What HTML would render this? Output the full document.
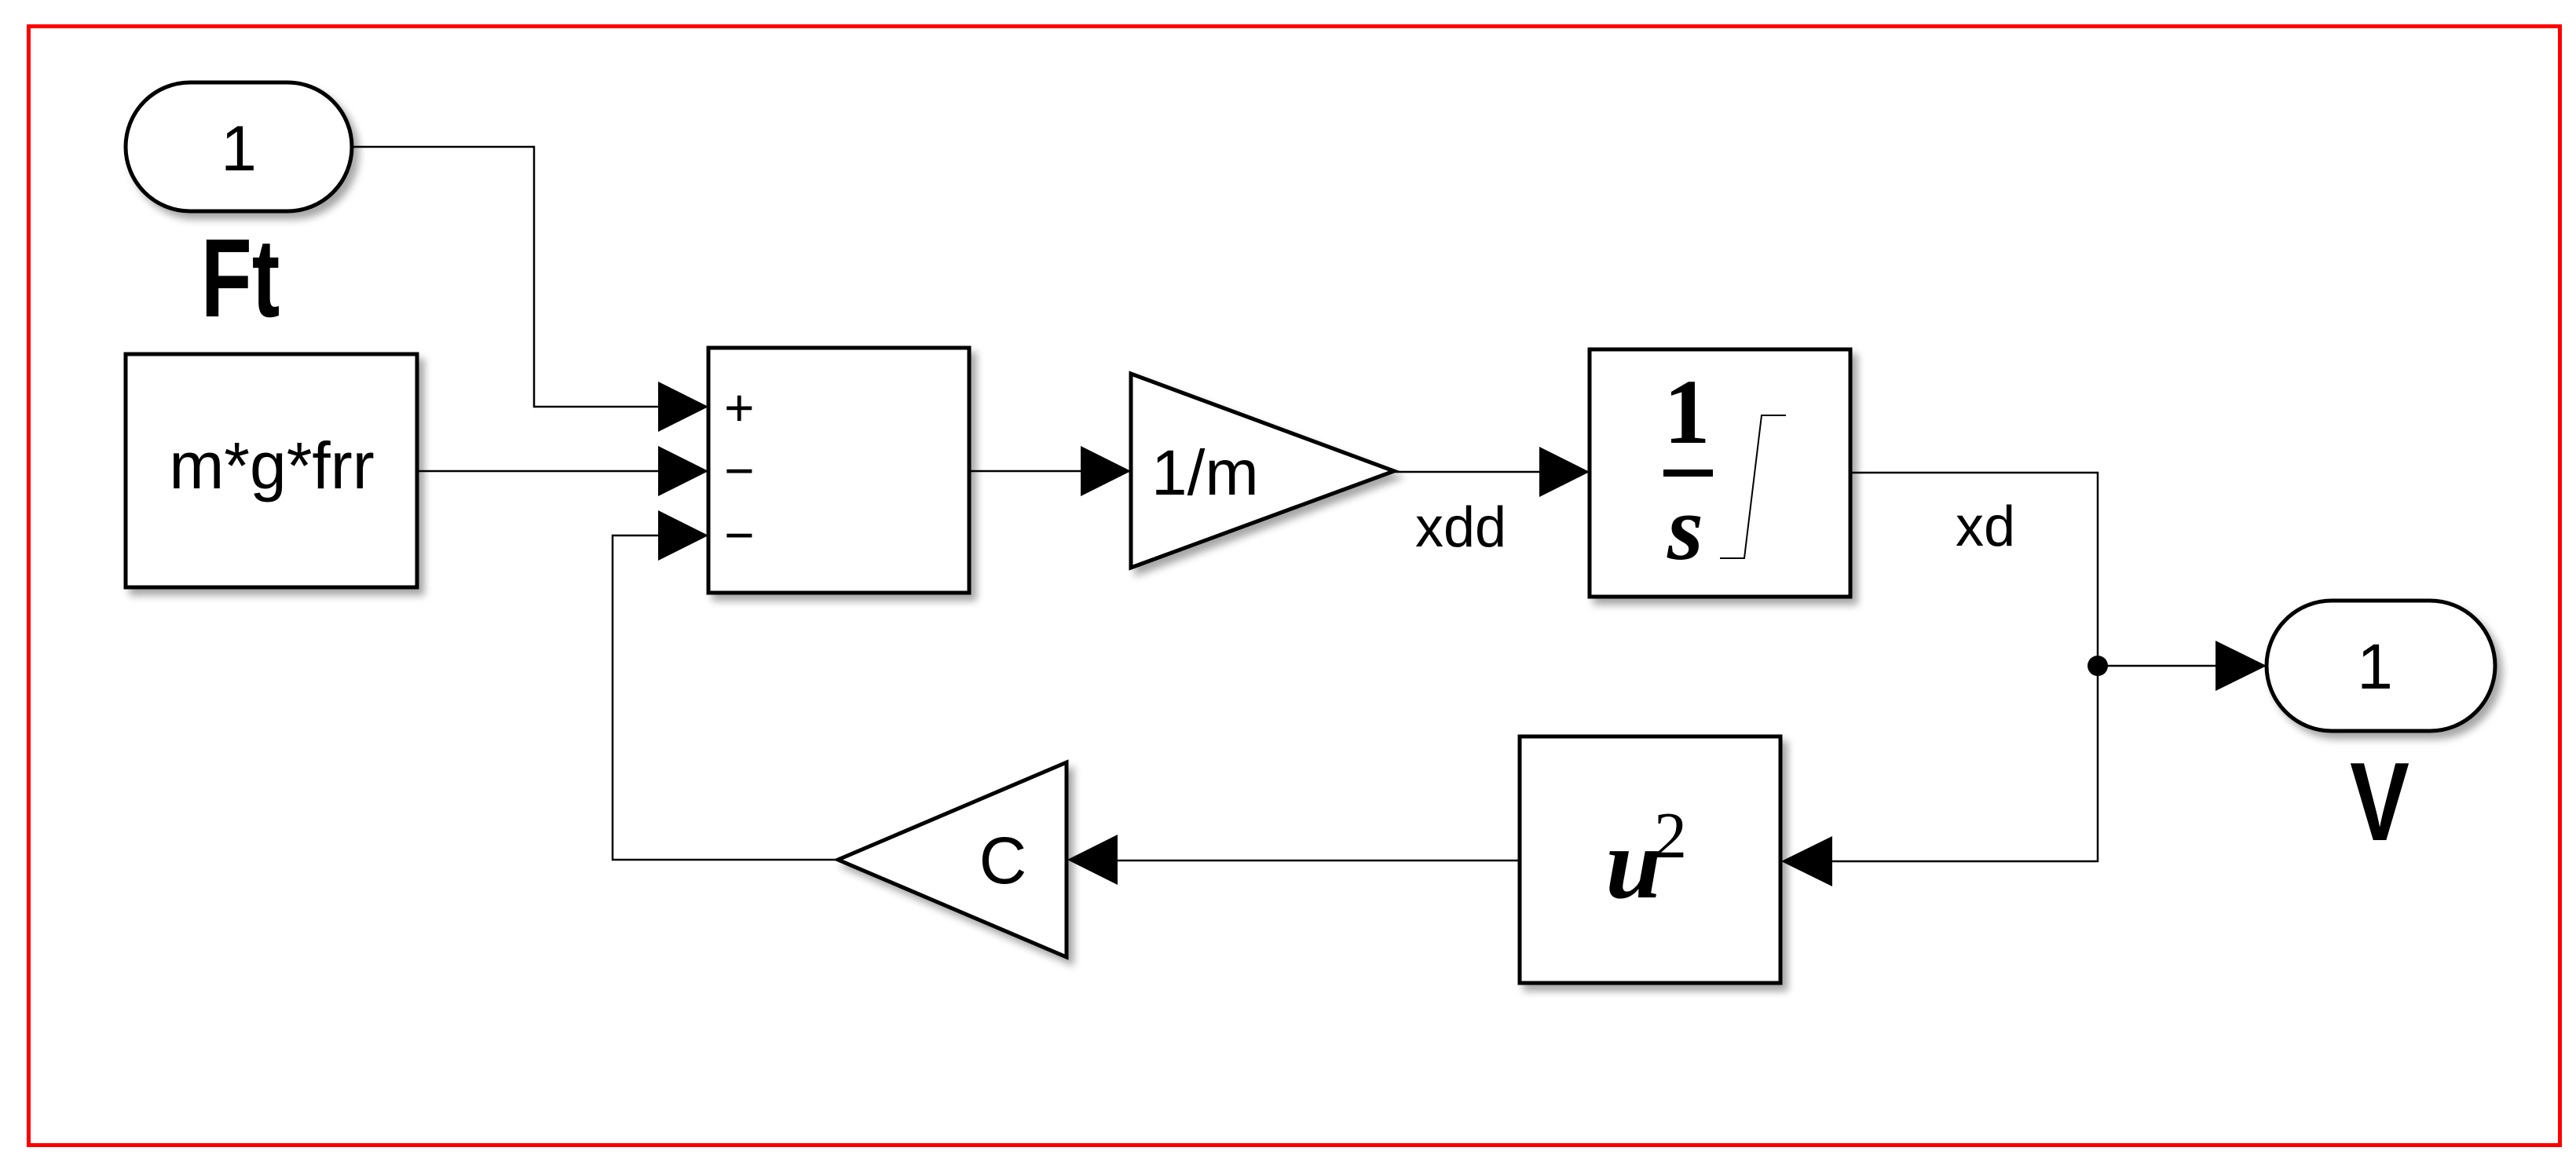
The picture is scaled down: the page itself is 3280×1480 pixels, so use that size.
<!DOCTYPE html>
<html><head><meta charset="utf-8"><style>
html,body{margin:0;padding:0;background:#fff;}
svg{display:block;}
text{font-family:"Liberation Sans",sans-serif;fill:#000;}
.s{font-family:"Liberation Serif",serif;}
</style></head><body>
<svg width="3280" height="1480" viewBox="0 0 3280 1480" xmlns="http://www.w3.org/2000/svg">
<defs>
<filter id="sh" x="-10%" y="-10%" width="130%" height="130%">
<feGaussianBlur in="SourceAlpha" stdDeviation="5"/>
<feOffset dx="7" dy="8"/>
<feComponentTransfer><feFuncA type="linear" slope="0.35"/></feComponentTransfer>
<feMerge><feMergeNode/><feMergeNode in="SourceGraphic"/></feMerge>
</filter>
</defs>
<rect x="0" y="0" width="3280" height="1480" fill="#fff"/>
<rect x="36.5" y="33.5" width="3223" height="1425" fill="none" stroke="#ff0000" stroke-width="5"/>

<!-- connectors -->
<g stroke="#000" stroke-width="2.5" fill="none">
<polyline points="448,187 680,187 680,518 840,518"/>
<line x1="531" y1="600" x2="840" y2="600"/>
<polyline points="1067,1095 780,1095 780,682 840,682"/>
<line x1="1234" y1="600" x2="1378" y2="600"/>
<line x1="1775" y1="601" x2="1962" y2="601"/>
<polyline points="2356,602 2671,602 2671,1097 2332,1097"/>
<line x1="2671" y1="848" x2="2822" y2="848"/>
<line x1="1935" y1="1096" x2="1423" y2="1096"/>
</g>
<circle cx="2671" cy="848" r="13" fill="#000"/>

<!-- arrowheads -->
<g fill="#000">
<polygon points="838,486 902,518 838,550"/>
<polygon points="838,568 902,600 838,632"/>
<polygon points="838,650 902,682 838,714"/>
<polygon points="1376,568 1440,600 1376,632"/>
<polygon points="1960,569 2024,601 1960,633"/>
<polygon points="2821,816 2886,848 2821,880"/>
<polygon points="2333,1065 2268,1097 2333,1129"/>
<polygon points="1423,1063 1359,1095 1423,1127"/>
</g>

<!-- blocks -->
<g stroke="#000" stroke-width="5" fill="#fff" filter="url(#sh)">
<rect x="160" y="105" width="288" height="164" rx="82" ry="82"/>
<rect x="160" y="451" width="371" height="297"/>
<rect x="902" y="443" width="332" height="312"/>
<polygon points="1440,476 1775,600 1440,723"/>
<rect x="2024" y="445" width="332" height="315"/>
<rect x="1935" y="938" width="332" height="314"/>
<polygon points="1358,971 1358,1219 1067,1095"/>
<rect x="2886" y="765" width="291" height="166" rx="83" ry="83"/>
</g>

<!-- texts -->
<text x="304" y="217" font-size="82" text-anchor="middle">1</text>
<text x="3024" y="877" font-size="82" text-anchor="middle">1</text>
<text x="0" y="0" font-size="142" font-weight="bold" text-anchor="middle" transform="translate(306,403) scale(0.75,1)">Ft</text>
<text x="0" y="0" font-size="142" font-weight="bold" text-anchor="middle" transform="translate(3030,1070) scale(0.8,1)">V</text>
<text x="346" y="622" font-size="84" text-anchor="middle">m*g*frr</text>
<text x="922" y="542" font-size="66">+</text>
<text x="922" y="622" font-size="66">−</text>
<text x="922" y="704" font-size="66">−</text>
<text x="1466" y="630" font-size="82">1/m</text>
<text x="1860" y="696" font-size="72" text-anchor="middle">xdd</text>
<text x="2528" y="695" font-size="72" text-anchor="middle">xd</text>
<text x="1277" y="1125" font-size="84" text-anchor="middle">C</text>

<!-- integrator content -->
<text class="s" x="2148" y="564" font-size="118" font-weight="bold" text-anchor="middle">1</text>
<rect x="2118" y="598" width="63" height="9" fill="#000"/>
<text class="s" x="2146" y="712" font-size="118" font-weight="bold" font-style="italic" text-anchor="middle">s</text>
<polyline points="2190,711 2221,711 2243,529 2274,529" fill="none" stroke="#000" stroke-width="2"/>

<!-- u^2 -->
<text class="s" x="2080" y="1143" font-size="128" font-weight="bold" font-style="italic" text-anchor="middle">u</text>
<text class="s" x="2127" y="1092" font-size="84" text-anchor="middle">2</text>
</svg>
</body></html>
